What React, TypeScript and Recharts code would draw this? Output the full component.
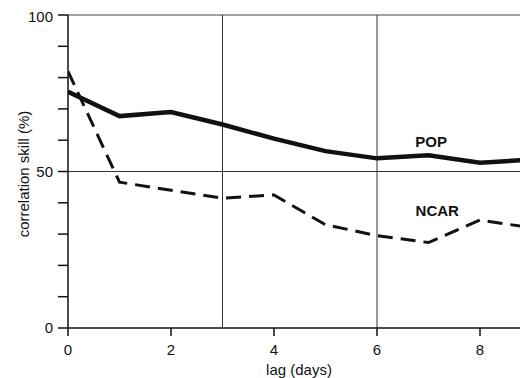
import React from 'react';
import {
  LineChart,
  Line,
  XAxis,
  YAxis,
  ReferenceLine,
  ReferenceDot,
} from 'recharts';

const lags = [0, 1, 2, 3, 4, 5, 6, 7, 8, 9];
const popSkill = [75.5, 67.7, 69, 65, 60.5, 56.5, 54.2, 55.2, 52.8, 53.8];
const ncarSkill = [82, 46.6, 44, 41.5, 42.5, 33, 29.5, 27.3, 34.5, 32];
const xTicks = [0, 2, 4, 6, 8];
const yTicks = [0, 10, 20, 30, 40, 50, 60, 70, 80, 90, 100];
const yLabelled = [0, 50, 100];

const FONT = '"Liberation Sans", Arial, sans-serif';

const data = lags.map((lag, i) => ({ lag, pop: popSkill[i], ncar: ncarSkill[i] }));

const YTick = (props: any) => {
  const { x, y, payload } = props;
  if (!yLabelled.includes(payload.value)) return null;
  return (
    <text x={x} y={y} dy="0.35em" textAnchor="end" fontSize={15} fill="#111" fontFamily={FONT}>
      {payload.value}
    </text>
  );
};

const seriesLabel = (text: string) => (props: any) => {
  const vb = props.viewBox || {};
  const cx = vb.cx ?? vb.x;
  const cy = vb.cy ?? vb.y;
  return (
    <text x={cx} y={cy} dy="0.35em" textAnchor="middle" fontSize={15} fontWeight="bold" fill="#111" fontFamily={FONT}>
      {text}
    </text>
  );
};

const App: React.FC = () => {
  return (
    <div style={{ width: 520, height: 370, overflow: 'hidden', fontFamily: FONT }}>
      <LineChart width={530} height={370} data={data} margin={{ top: 7, right: 6.5, left: 0, bottom: 0 }}>
        <XAxis
          dataKey="lag"
          type="number"
          domain={[0, 9]}
          ticks={xTicks}
          allowDataOverflow
          height={50}
          stroke="#111"
          strokeWidth={1.5}
          tickSize={8}
          tickMargin={8}
          tick={{ fontSize: 15, fill: '#111', fontFamily: FONT }}
          label={{
            content: () => (
              <text
                x={291}
                y={361}
                textAnchor="middle"
                dominantBaseline="central"
                fontSize={15}
                fill="#111"
                fontFamily={FONT}
              >
                lag (days)
              </text>
            ),
          }}
        />
        <YAxis
          type="number"
          domain={[0, 100]}
          ticks={yTicks}
          width={60}
          stroke="#111"
          strokeWidth={1.5}
          tickSize={10}
          tickMargin={5}
          tick={<YTick />}
          label={{
            content: () => (
              <text
                x={15}
                y={166}
                transform="rotate(-90 15 166)"
                textAnchor="middle"
                dominantBaseline="central"
                fontSize={15}
                fill="#111"
                fontFamily={FONT}
              >
                correlation skill (%)
              </text>
            ),
          }}
        />
        <ReferenceLine y={100} stroke="#444" strokeWidth={1} />
        <ReferenceLine y={50} stroke="#333" strokeWidth={1} />
        <ReferenceLine x={3} stroke="#333" strokeWidth={1} />
        <ReferenceLine x={6} stroke="#333" strokeWidth={1} />
        <Line
          dataKey="ncar"
          type="linear"
          stroke="#111"
          strokeWidth={3}
          strokeDasharray="15 8"
          dot={false}
          isAnimationActive={false}
        />
        <Line
          dataKey="pop"
          type="linear"
          stroke="#111"
          strokeWidth={4.5}
          dot={false}
          isAnimationActive={false}
        />
        <ReferenceDot x={7.05} y={59.4} r={0} fill="none" stroke="none" label={{ content: seriesLabel('POP') }} />
        <ReferenceDot x={7.17} y={37.4} r={0} fill="none" stroke="none" label={{ content: seriesLabel('NCAR') }} />
      </LineChart>
    </div>
  );
};

export default App;
